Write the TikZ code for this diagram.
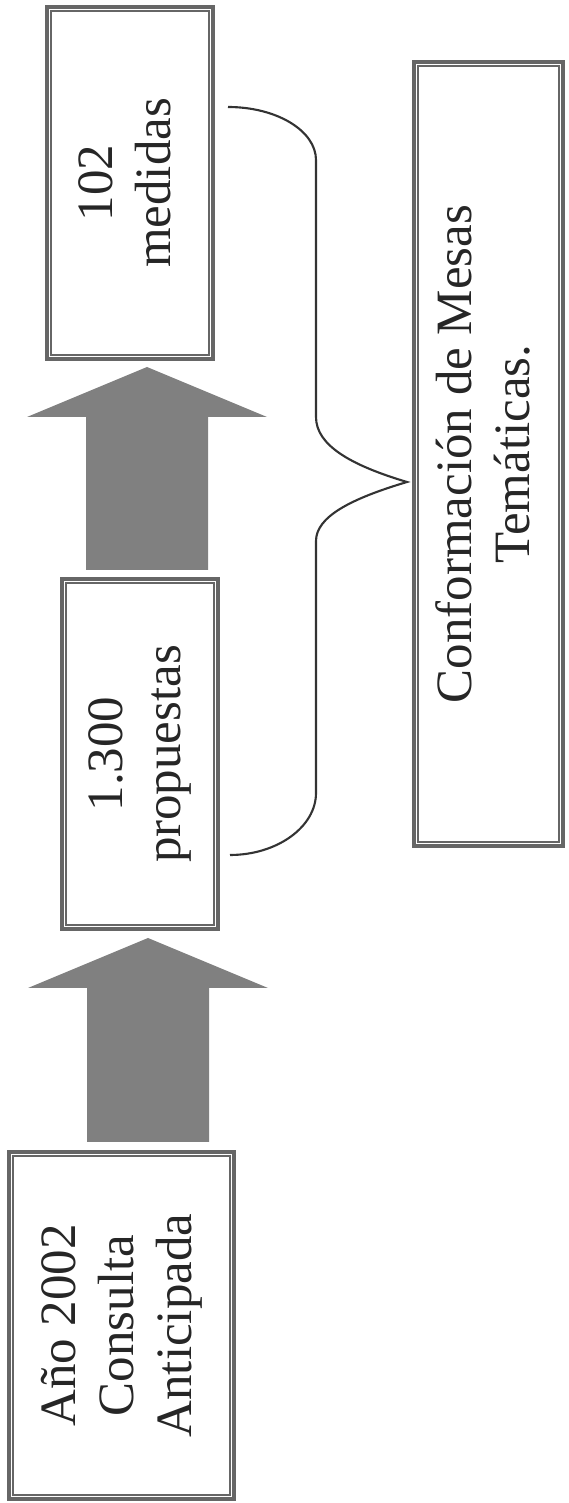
\documentclass[tikz,border=0pt]{standalone}
\usepackage{fontspec}
\setmainfont{Liberation Serif}
\usepackage{graphicx}
\usetikzlibrary{calc}
\newcommand{\vertical}[1]{\rotatebox{90}{\begin{tabular}{@{}c@{}}#1\end{tabular}}}
\newcommand{\flechagruesa}[2]{\fill[flecha] ($(#1)+(-0.61,0)$) -- ($(#2)+(-0.61,-0.5)$) -- ($(#2)+(-1.2,-0.5)$) -- (#2) -- ($(#2)+(1.2,-0.5)$) -- ($(#2)+(0.61,-0.5)$) -- ($(#1)+(0.61,0)$) -- cycle;}

\begin{document}
\begin{tikzpicture}[caja/.style={draw=black!60, line width=0.04cm, inner sep=0pt, text=black!85, font=\fontsize{14.5}{16.5}\selectfont},
  flecha/.style={fill=black!50},
  llave/.style={draw=black!80, line width=0.6pt}]
\useasboundingbox (0,0) rectangle (5.69,15.03);
\node[caja, minimum width=2.25cm, minimum height=3.47cm] (anio) at (1.215,1.775) {\vertical{Año 2002\\Consulta\\Anticipada}};
\node[caja, minimum width=1.56cm, minimum height=3.50cm] (prop) at (1.40,7.49) {\vertical{1.300\\propuestas}};
\node[caja, minimum width=1.66cm, minimum height=3.52cm] (med) at (1.30,13.20) {\vertical{102\\medidas}};
\node[caja, minimum width=1.49cm, minimum height=7.84cm] (mesas) at (4.885,10.49) {\vertical{Conformación de Mesas\\Temáticas.}};
\foreach \n in {anio,prop,med,mesas}
  \draw[black!60, line width=0.015cm] ([shift={(0.06,-0.06)}]\n.north west) rectangle ([shift={(-0.06,0.06)}]\n.south east);
\coordinate (a1b) at (1.48,3.61);
\coordinate (a1t) at (1.48,5.65);
\coordinate (a2b) at (1.47,9.33);
\coordinate (a2t) at (1.47,11.36);
\flechagruesa{a1b}{a1t}
\flechagruesa{a2b}{a2t}
\draw[llave] (2.28,13.96) .. controls (2.77,13.96) and (3.16,13.72) .. (3.16,13.43) -- (3.16,10.86)
  .. controls (3.16,10.58) and (3.50,10.38) .. (4.07,10.21)
  .. controls (3.50,10.04) and (3.16,9.86) .. (3.16,9.62) -- (3.16,7.10)
  .. controls (3.16,6.76) and (2.77,6.48) .. (2.30,6.48);
\end{tikzpicture}
\end{document}
